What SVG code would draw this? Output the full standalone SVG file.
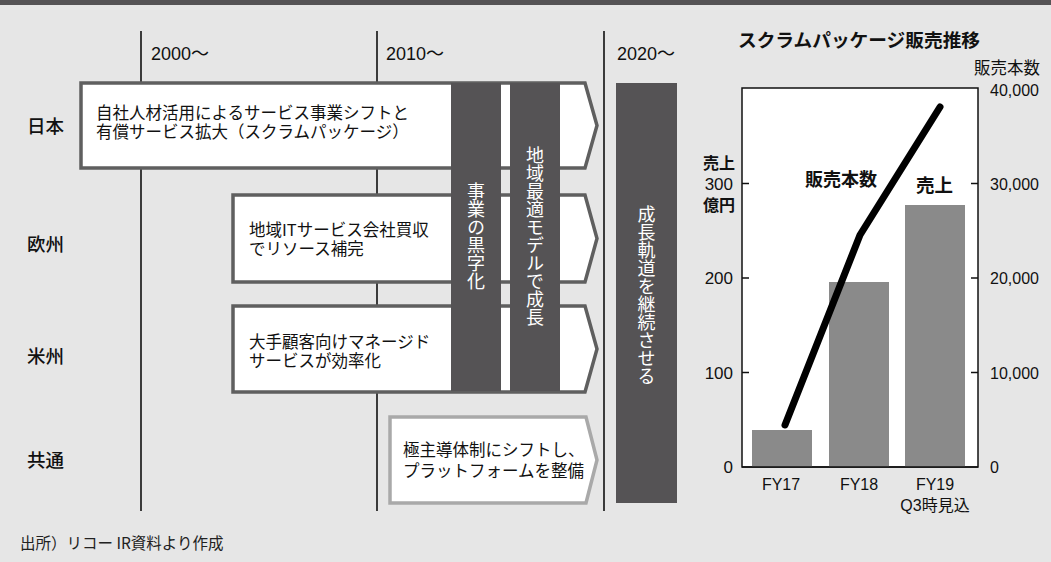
<svg xmlns="http://www.w3.org/2000/svg" width="1051" height="562" viewBox="0 0 1051 562">
<style>
text{font-family:"Noto Sans CJK JP","Noto Sans",sans-serif;fill:#111}
.yr{font-family:"Liberation Sans","Noto Sans CJK JP",sans-serif;font-size:18px}
.row{font-size:18.5px;font-weight:500}
.bt{font-size:16.5px}
.vt{font-size:18px;fill:#fff;writing-mode:vertical-rl;text-anchor:middle}
.box{fill:#fff;stroke:#5f5f5f;stroke-width:3.5}
.boxl{fill:#fff;stroke:#a9a9a9;stroke-width:3.5}
.bar{fill:#555355}
.tl{stroke:#111;stroke-width:1.6}
.ax{font-family:"Liberation Sans","Noto Sans CJK JP",sans-serif;font-size:16px}
.axl{font-family:"Liberation Sans",sans-serif;font-size:17px;text-anchor:end}
.cb{fill:#8a8a8a}
</style>
<rect width="1051" height="562" fill="#e6e6e6"/>
<rect width="1051" height="5" fill="#555355"/>

<g id="connectors">
<line class="tl" x1="141" y1="31" x2="141" y2="511"/>
<line class="tl" x1="377" y1="31" x2="377" y2="511"/>
<line class="tl" x1="604" y1="31" x2="604" y2="511"/>
</g>

<g id="years">
<text class="yr" x="151" y="60">2000〜</text>
<text class="yr" x="386" y="60">2010〜</text>
<text class="yr" x="617" y="60">2020〜</text>
</g>

<g id="rows">
<text class="row" x="27" y="133">日本</text>
<text class="row" x="27" y="251">欧州</text>
<text class="row" x="27" y="363">米州</text>
<text class="row" x="27" y="467">共通</text>
</g>

<g id="node-japan">
<polygon class="box" points="81,83 585,83 597,125.5 585,168 81,168"/>
<text class="bt" x="96" y="119">自社人材活用によるサービス事業シフトと</text>
<text class="bt" x="96" y="138">有償サービス拡大（スクラムパッケージ）</text>
</g>
<g id="node-europe">
<polygon class="box" points="233,195 585,195 597,238.5 585,282 233,282"/>
<text class="bt" x="249" y="235.5">地域ITサービス会社買収</text>
<text class="bt" x="249" y="254.5">でリソース補完</text>
</g>
<g id="node-us">
<polygon class="box" points="233,306 585,306 597,349 585,392 233,392"/>
<text class="bt" x="249" y="347.5">大手顧客向けマネージド</text>
<text class="bt" x="249" y="366.5">サービスが効率化</text>
</g>
<g id="node-common">
<polygon class="boxl" points="390,417 586,417 597,460 586,503 390,503"/>
<text class="bt" x="403" y="456">極主導体制にシフトし、</text>
<text class="bt" x="403" y="477">プラットフォームを整備</text>
</g>

<g id="node-kuroji">
<rect class="bar" x="451" y="83" width="50" height="308"/>
<text class="vt" x="476" y="236">事業の黒字化</text>
</g>
<g id="node-chiiki">
<rect class="bar" x="510" y="83" width="50" height="308"/>
<text class="vt" x="535" y="236">地域最適モデルで成長</text>
</g>
<g id="node-seicho">
<rect class="bar" x="616" y="83" width="61" height="420"/>
<text class="vt" x="646.5" y="295">成長軌道を継続させる</text>
</g>

<g id="chart">
<text x="738" y="47" style="font-size:18.7px;font-weight:bold">スクラムパッケージ販売推移</text>
<text x="1040" y="74" text-anchor="end" style="font-size:16.5px">販売本数</text>
<rect x="742" y="88" width="236" height="379" fill="#fff" stroke="#111" stroke-width="1.5"/>
<g stroke="#111" stroke-width="1.5">
<line x1="742" y1="183.5" x2="749" y2="183.5"/>
<line x1="742" y1="278" x2="749" y2="278"/>
<line x1="742" y1="372.5" x2="749" y2="372.5"/>
<line x1="971" y1="183.5" x2="978" y2="183.5"/>
<line x1="971" y1="278" x2="978" y2="278"/>
<line x1="971" y1="372.5" x2="978" y2="372.5"/>
</g>
<rect class="cb" x="752" y="430" width="60" height="37"/>
<rect class="cb" x="829" y="282" width="60" height="185"/>
<rect class="cb" x="905" y="205" width="60" height="262"/>
<line x1="742" y1="467" x2="978" y2="467" stroke="#111" stroke-width="1.5"/>
<polyline points="785,425 860,235 940,107" fill="none" stroke="#000" stroke-width="7" stroke-linecap="round" stroke-linejoin="round"/>
<text x="805" y="186" style="font-size:18px;font-weight:bold">販売本数</text>
<text x="916" y="192" style="font-size:18.5px;font-weight:bold">売上</text>
<text x="703" y="169" style="font-size:16px;font-weight:bold">売上</text>
<text class="axl" x="733" y="190">300</text>
<text x="703" y="211" style="font-size:16px;font-weight:bold">億円</text>
<text class="axl" x="733" y="284">200</text>
<text class="axl" x="733" y="378.5">100</text>
<text class="axl" x="733" y="473">0</text>
<text class="ax" x="990" y="96">40,000</text>
<text class="ax" x="990" y="190">30,000</text>
<text class="ax" x="990" y="284">20,000</text>
<text class="ax" x="990" y="378.5">10,000</text>
<text class="ax" x="990" y="473">0</text>
<text class="ax" x="781" y="490" text-anchor="middle">FY17</text>
<text class="ax" x="859" y="490" text-anchor="middle">FY18</text>
<text class="ax" x="935" y="490" text-anchor="middle">FY19</text>
<text class="ax" x="935" y="511" text-anchor="middle">Q3時見込</text>
</g>

<text x="20" y="549" style="font-size:15.5px;fill:#222">出所）リコー IR資料より作成</text>
</svg>
